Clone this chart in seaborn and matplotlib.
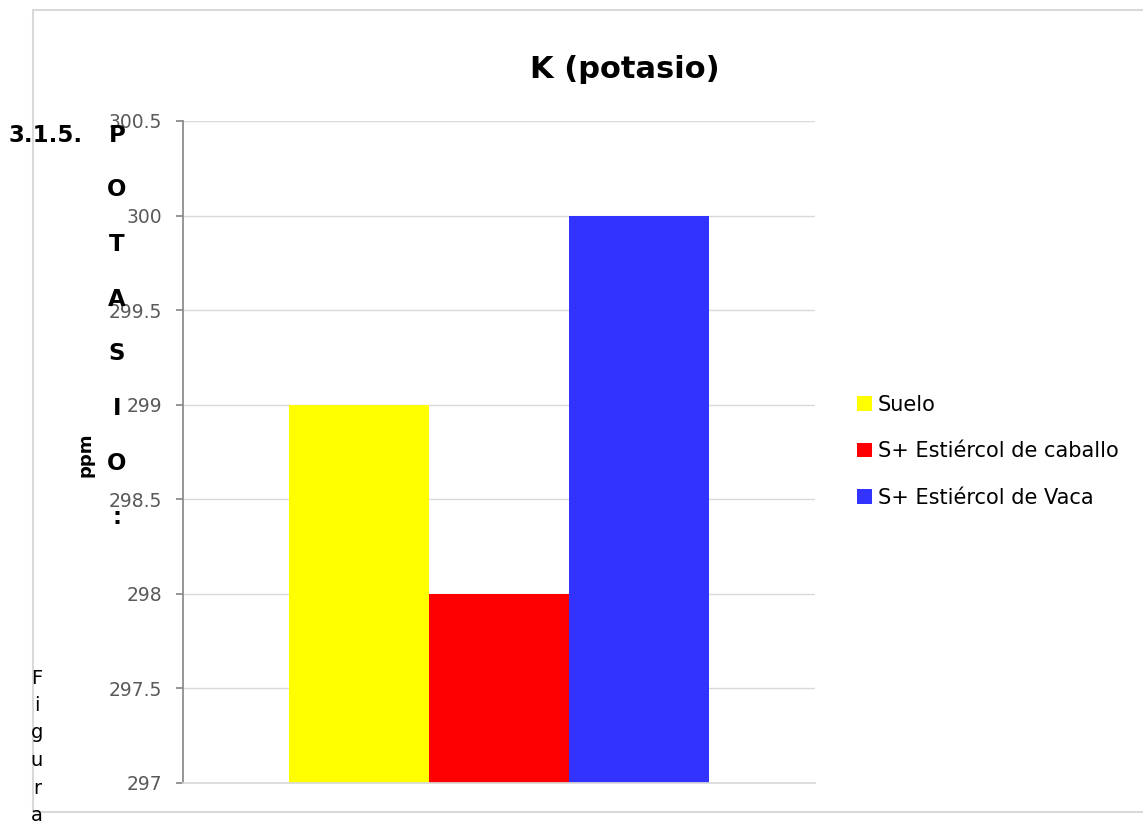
import matplotlib
matplotlib.use("Agg")
import matplotlib.pyplot as plt
import seaborn as sns
import pandas as pd
from matplotlib.patches import Rectangle

# ---- data ----
categories = ["Suelo", "S+ Estiércol de caballo", "S+ Estiércol de Vaca"]
values = [299, 298, 300]
colors = ["#FFFF00", "#FF0000", "#3333FF"]
y_ticks = [297, 297.5, 298, 298.5, 299, 299.5, 300, 300.5]
y_tick_labels = ["297", "297.5", "298", "298.5", "299", "299.5", "300", "300.5"]
title = "K (potasio)"
y_label = "ppm"

df = pd.DataFrame({"grupo": ["K"] * len(categories), "serie": categories, "valor": values})

sns.set_theme(style="white")
plt.rcParams['font.family'] = ['DejaVu Sans']
plt.rcParams['text.color'] = 'black'

W, H = 1143, 825
fig = plt.figure(figsize=(W / 100, H / 100), dpi=100)

def fx(px):
    return px / W

def fy(py):
    return 1 - py / H

# chart frame
fig.patches.append(Rectangle((fx(33), fy(812)), fx(1160) - fx(33), fy(10) - fy(812),
                             transform=fig.transFigure, fill=False,
                             edgecolor="#d9d9d9", linewidth=1.5))

ax = fig.add_axes([fx(183), fy(783), fx(815) - fx(183), fy(121) - fy(783)])
sns.barplot(data=df, x="grupo", y="valor", hue="serie", hue_order=categories,
            palette=colors, width=0.666, saturation=1, ax=ax, legend=False,
            edgecolor="none", linewidth=0)

ax.set_ylim(297, 300.5)
ax.set_xlim(-0.5, 0.5)
# bars start at the axis minimum
for p in ax.patches:
    h = p.get_height()
    p.set_y(297)
    p.set_height(h - 297)

ax.set_yticks(y_ticks)
ax.set_yticklabels(y_tick_labels, fontsize=13.5, color="#595959")
ax.set_xticks([])
ax.set_xlabel("")
ax.set_ylabel("")
ax.yaxis.grid(True, color="#d9d9d9", linewidth=1)
ax.set_axisbelow(True)
for s in ["top", "right"]:
    ax.spines[s].set_visible(False)
ax.spines["bottom"].set_color("#d9d9d9")
ax.spines["left"].set_color("#898989")
ax.tick_params(axis="y", which="both", left=True, length=5, color="#898989", pad=10)

# title
fig.text(fx(625), fy(70), title, ha="center", va="center", fontsize=22, fontweight="bold", color="black")

# y label
fig.text(fx(85), fy(455), y_label, rotation=90, ha="center", va="center", fontsize=13,
         fontweight="bold", color="black")

# legend
handles = [Rectangle((0, 0), 1, 1, facecolor=c, edgecolor="none") for c in colors]
leg = fig.legend(handles, categories, loc="upper left", bbox_to_anchor=(fx(857), fy(395)),
                 frameon=False, fontsize=15, handlelength=0.7, handleheight=0.7,
                 handletextpad=0.3, labelspacing=1.26, borderaxespad=0, borderpad=0)
for t in leg.get_texts():
    t.set_color("black")

# overlaid document text
fig.text(fx(9), fy(135), "3.1.5.", ha="left", va="center", fontsize=16.5, fontweight="bold",
         color="black")
for i, ch in enumerate("POTASIO:"):
    fig.text(fx(117), fy(135 + i * 54.7), ch, ha="center", va="center", fontsize=16.5,
             fontweight="bold", color="black")
for i, ch in enumerate("Figura"):
    fig.text(fx(37), fy(678 + i * 27.5), ch, ha="center", va="center", fontsize=14,
             color="black")

fig.savefig("out.png", dpi=100)
